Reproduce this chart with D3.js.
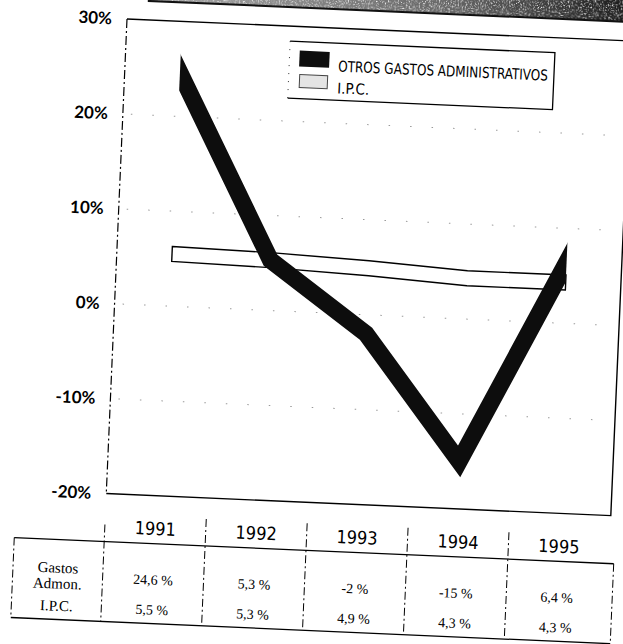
<!DOCTYPE html>
<html>
<head>
<meta charset="utf-8">
<script src="https://cdn.jsdelivr.net/npm/d3@7"></script>
<style>
  body { margin: 0; background: #fff; }
</style>
</head>
<body>
<div id="chart"></div>
<script>
// values
var years = ["1991", "1992", "1993", "1994", "1995"];
var gastos = [24.6, 5.3, -2, -15, 6.4];
var ipc = [5.5, 5.3, 4.9, 4.3, 4.3];
var yTicks = [30, 20, 10, 0, -10, -20];
var gridTicks = [20, 10, 0, -10];
var rowLabels = [["Gastos", "Admon."], ["I.P.C."]];
var legendLabels = ["OTROS GASTOS ADMINISTRATIVOS", "I.P.C."];

var width = 505, height = 475;
var narrow = "'Liberation Sans Narrow', 'DejaVu Sans Condensed', sans-serif";
var serif = "'Liberation Serif', 'DejaVu Serif', serif";

var svg = d3.select("#chart").append("svg")
    .attr("width", 623)
    .attr("height", 644);

var defs = svg.append("defs");

// speckle for the scanner edge
var grain = defs.append("filter").attr("id", "grain")
    .attr("x", 0).attr("y", 0).attr("width", 1).attr("height", 1);
grain.append("feTurbulence")
    .attr("type", "fractalNoise").attr("baseFrequency", 0.7)
    .attr("numOctaves", 2).attr("seed", 4);
grain.append("feColorMatrix").attr("type", "matrix")
    .attr("values", "0 0 0 0 0  0 0 0 0 0  0 0 0 0 0  0 0 0 -3 2.5");
grain.append("feComposite").attr("in2", "SourceGraphic").attr("operator", "in");

var fade = defs.append("linearGradient").attr("id", "fade");
fade.append("stop").attr("offset", "0%").attr("stop-color", "#000").attr("stop-opacity", 0.35);
fade.append("stop").attr("offset", "55%").attr("stop-color", "#000").attr("stop-opacity", 0.6);
fade.append("stop").attr("offset", "100%").attr("stop-color", "#000").attr("stop-opacity", 1);

// the whole page was scanned a bit crooked
var g = svg.append("g").attr("transform", "translate(127,19) rotate(2.5)");

var x = d3.scalePoint().domain(years).range([0, width]).padding(0.56);
var y = d3.scaleLinear().domain([-20, 30]).range([height, 0]);
var col = d3.scaleBand().domain(years).range([0, width]);

defs.append("clipPath").attr("id", "plotclip")
  .append("rect")
    .attr("x", x(years[0]))
    .attr("y", -60)
    .attr("width", x(years[years.length - 1]) - x(years[0]))
    .attr("height", height + 120);

// scanner band along the top
g.append("rect")
    .attr("x", 20).attr("y", -60)
    .attr("width", width + 40).attr("height", 41)
    .attr("fill", "url(#fade)")
    .attr("filter", "url(#grain)");
g.append("line")
    .attr("x1", 20).attr("x2", width + 60)
    .attr("y1", -19).attr("y2", -19)
    .attr("stroke", "#111").attr("stroke-width", 2);

// dotted gridlines
g.selectAll(".grid")
  .data(gridTicks)
  .enter().append("line")
    .attr("class", "grid")
    .attr("x1", 8).attr("x2", width - 4)
    .attr("y1", function(d) { return y(d); })
    .attr("y2", function(d) { return y(d); })
    .attr("stroke", "#999")
    .attr("stroke-width", 1)
    .attr("stroke-dasharray", "1.5,20");

// y labels
g.selectAll(".ylab")
  .data(yTicks)
  .enter().append("text")
    .attr("class", "ylab")
    .attr("x", -15)
    .attr("y", function(d) { return y(d); })
    .attr("dy", "0.35em")
    .attr("text-anchor", "end")
    .style("font-family", "Lato, 'Open Sans', sans-serif")
    .style("font-weight", "bold")
    .style("font-size", "17px")
    .text(function(d) { return d + "%"; });

// frame
g.append("path")
    .attr("d", "M0,0H" + width + "V" + height + "H0")
    .attr("fill", "none")
    .attr("stroke", "#000")
    .attr("stroke-width", 1.4);
g.append("line")
    .attr("x1", 0).attr("x2", 0).attr("y1", 0).attr("y2", height)
    .attr("stroke", "#000").attr("stroke-width", 1.2)
    .attr("stroke-dasharray", "9,3,2,3");

// I.P.C. hollow ribbon
var ipcArea = d3.area()
    .x(function(d, i) { return x(years[i]); })
    .y0(function(d) { return y(d) + 7.5; })
    .y1(function(d) { return y(d) - 7.5; });

g.append("path")
    .datum(ipc)
    .attr("d", ipcArea)
    .attr("fill", "#fff")
    .attr("stroke", "#000")
    .attr("stroke-width", 1.4);

// gastos thick ribbon, ends cut vertical
var pts = years.map(function(d, i) { return [x(d), y(gastos[i])]; });
function extend(a, b, len) {
  var dx = a[0] - b[0], dy = a[1] - b[1], l = Math.sqrt(dx * dx + dy * dy);
  return [a[0] + dx / l * len, a[1] + dy / l * len];
}
var n = pts.length;
var ribbon = [extend(pts[0], pts[1], 40)].concat(pts, [extend(pts[n - 1], pts[n - 2], 40)]);

g.append("path")
    .datum(ribbon)
    .attr("d", d3.line())
    .attr("fill", "none")
    .attr("stroke", "#0d0d0d")
    .attr("stroke-width", 17)
    .attr("stroke-linejoin", "miter")
    .attr("clip-path", "url(#plotclip)");

// legend
var leg = g.append("g");
leg.append("path")
    .attr("d", "M164,15H429V72H164")
    .attr("fill", "none").attr("stroke", "#000").attr("stroke-width", 1.3);
leg.append("line")
    .attr("x1", 164).attr("x2", 164).attr("y1", 15).attr("y2", 72)
    .attr("stroke", "#000").attr("stroke-width", 0.8)
    .attr("stroke-dasharray", "1,7");
leg.append("rect")
    .attr("x", 174).attr("y", 24).attr("width", 30).attr("height", 16)
    .attr("fill", "#0d0d0d");
leg.append("rect")
    .attr("x", 175).attr("y", 48).attr("width", 28).attr("height", 13)
    .attr("fill", "#e4e4e4").attr("stroke", "#444").attr("stroke-width", 1);
leg.selectAll(".legtxt")
  .data(legendLabels)
  .enter().append("text")
    .attr("class", "legtxt")
    .attr("x", 213)
    .attr("y", function(d, i) { return 38 + i * 22; })
    .attr("dy", "0.35em")
    .attr("textLength", function(d, i) { return i === 0 ? 210 : null; })
    .attr("lengthAdjust", "spacingAndGlyphs")
    .style("font-family", narrow)
    .style("font-size", "15px")
    .text(function(d) { return d; });

// table under the chart
var tLeft = -90, tRight = width + 5, tTop = 523, tBottom = 603;
var bw = col.bandwidth();

g.selectAll(".year")
  .data(years)
  .enter().append("text")
    .attr("class", "year")
    .attr("x", function(d) { return col(d) + bw / 2; })
    .attr("y", 508)
    .attr("dy", "0.35em")
    .attr("text-anchor", "middle")
    .style("font-family", narrow)
    .style("font-size", "18px")
    .text(function(d) { return d; });

g.selectAll(".sep")
  .data(years)
  .enter().append("line")
    .attr("class", "sep")
    .attr("x1", function(d) { return col(d); })
    .attr("x2", function(d) { return col(d); })
    .attr("y1", function(d, i) { return i === 0 ? 506 : 496; })
    .attr("y2", tBottom)
    .attr("stroke", "#000").attr("stroke-width", 1)
    .attr("stroke-dasharray", "8,3,2,3");

g.append("path")
    .attr("d", "M" + tLeft + "," + tTop + "H" + tRight + "M" + tLeft + "," + tBottom + "H" + tRight)
    .attr("stroke", "#000").attr("stroke-width", 1.3);
g.selectAll(".tside")
  .data([tLeft, tRight])
  .enter().append("line")
    .attr("class", "tside")
    .attr("x1", function(d) { return d; })
    .attr("x2", function(d) { return d; })
    .attr("y1", tTop).attr("y2", tBottom)
    .attr("stroke", "#000").attr("stroke-width", 1)
    .attr("stroke-dasharray", "8,3,2,3");

// row labels
var rowY = [559, 589];
rowLabels.forEach(function(lines, r) {
  var t = g.append("text")
      .attr("x", tLeft / 2)
      .attr("y", rowY[r] - (lines.length - 1) * 8)
      .attr("text-anchor", "middle")
      .style("font-family", serif)
      .style("font-size", "15px");
  lines.forEach(function(s, k) {
    t.append("tspan")
        .attr("x", tLeft / 2)
        .attr("dy", k === 0 ? "0.35em" : "1.05em")
        .text(s);
  });
});

function pct(v) { return String(v).replace(".", ",") + " %"; }

[gastos, ipc].forEach(function(series, r) {
  g.selectAll(".val" + r)
    .data(series)
    .enter().append("text")
      .attr("class", "val" + r)
      .attr("x", function(d, i) { return col(years[i]) + bw / 2; })
      .attr("y", rowY[r])
      .attr("dy", "0.35em")
      .attr("text-anchor", "middle")
      .style("font-family", serif)
      .style("font-size", "14px")
      .text(function(d) { return pct(d); });
});
</script>
</body>
</html>
